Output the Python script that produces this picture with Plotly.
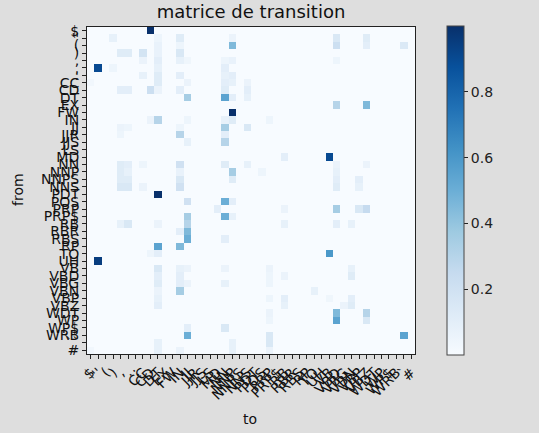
import numpy as np
import plotly.graph_objects as go

tags = ["$", "''", "(", ")", ",", ".", ":", "CC", "CD", "DT", "EX", "FW", "IN", "JJ", "JJR",
        "JJS", "LS", "MD", "NN", "NNP", "NNPS", "NNS", "PDT", "POS", "PRP", "PRP$", "RB", "RBR",
        "RBS", "RP", "TO", "UH", "VB", "VBD", "VBG", "VBN", "VBP", "VBZ", "WDT", "WP", "WP$",
        "WRB", "``", "#"]

# transition entries (from tag, to tag, probability)
from_tags = [
    "$",
    "''", "''", "''", "''", "''", "''",
    "(", "(", "(", "(", "(", "(",
    ")", ")", ")", ")", ")",
    ",", ",", ",", ",", ",", ",", ",",
    ".", ".", ".", ".",
    ":", ":", ":", ":", ":",
    "CC", "CC", "CC", "CC", "CC", "CC",
    "CD", "CD", "CD", "CD", "CD", "CD", "CD",
    "DT", "DT", "DT", "DT",
    "EX", "EX",
    "FW",
    "IN", "IN", "IN", "IN", "IN", "IN",
    "JJ", "JJ", "JJ", "JJ", "JJ",
    "JJR", "JJR", "JJR",
    "JJS", "JJS",
    "MD", "MD",
    "NN", "NN", "NN", "NN", "NN", "NN", "NN", "NN",
    "NNP", "NNP", "NNP", "NNP", "NNP", "NNP",
    "NNPS", "NNPS", "NNPS", "NNPS", "NNPS", "NNPS",
    "NNS", "NNS", "NNS", "NNS", "NNS", "NNS",
    "PDT",
    "POS", "POS", "POS",
    "PRP", "PRP", "PRP", "PRP", "PRP",
    "PRP$", "PRP$", "PRP$",
    "RB", "RB", "RB", "RB", "RB", "RB", "RB",
    "RBR", "RBR",
    "RBS", "RBS",
    "RP", "RP",
    "TO", "TO", "TO",
    "UH",
    "VB", "VB", "VB", "VB", "VB", "VB",
    "VBD", "VBD", "VBD", "VBD", "VBD",
    "VBG", "VBG", "VBG", "VBG", "VBG",
    "VBN", "VBN", "VBN",
    "VBP", "VBP", "VBP", "VBP", "VBP",
    "VBZ", "VBZ", "VBZ", "VBZ",
    "WDT", "WDT", "WDT",
    "WP", "WP", "WP",
    "WP$", "WP$",
    "WRB", "WRB", "WRB",
    "``", "``", "``",
    "#", "#", "#", "#", "#",
]
to_tags = [
    "CD",
    ")", "DT", "IN", "NNP", "VBD", "VBZ",
    "DT", "IN", "NNP", "VBD", "VBZ", "``",
    ",", ".", "CC", "DT", "IN",
    "CC", "DT", "IN", "JJ", "NN", "NNP", "VBD",
    "''", ")", "DT", "NN",
    "CC", "DT", "IN", "NN", "NNP",
    "$", "DT", "JJ", "NN", "NNP", "NNS",
    ",", ".", "CD", "DT", "IN", "NN", "NNS",
    "JJ", "NN", "NNP", "NNS",
    "VBD", "VBZ",
    "NNP",
    "DT", "NNP", "NN", "PRP", "CD", "JJ",
    "NN", "NNS", ",", ".", "IN",
    "IN", "NN", ",",
    "NN", "JJ",
    "VB", "RB",
    ",", ".", "IN", "NN", "NNS", "VBD", "VBZ", "CC",
    ",", ".", "NNP", "IN", "POS", "VBD",
    ",", ".", "IN", "NNP", "VBP", "VBD",
    ",", ".", "IN", "VBD", "VBP", "CC",
    "DT",
    "NN", "JJ", "NNP",
    "VBD", "VBZ", "VBP", "MD", "RB",
    "NN", "JJ", "NNP",
    ".", "JJ", "VBD", "RB", "VBN", "DT", ",",
    "JJ", "IN",
    "JJ", "NN",
    "DT", "IN",
    "VB", "DT", "CD",
    "''",
    "DT", "IN", "JJ", "PRP", "VBN", "NN",
    "DT", "IN", "RB", "VBN", "PRP",
    "DT", "IN", "JJ", "NN", "PRP",
    "IN", "DT", "TO",
    "DT", "RB", "VBN", "PRP", "VB",
    "DT", "RB", "VBN", "VBG",
    "VBD", "VBZ", "PRP",
    "VBD", "VBZ", "PRP",
    "JJ", "NN",
    "JJ", "``", "PRP",
    "PRP", "DT", "NNP",
    "DT", "NNP", "PRP", "IN", "$",
]
probs = [
    1.0,
    0.08, 0.05, 0.12, 0.06, 0.15, 0.12,
    0.07, 0.05, 0.45, 0.22, 0.10, 0.14,
    0.12, 0.12, 0.18, 0.07, 0.15,
    0.06, 0.10, 0.08, 0.04, 0.05, 0.07, 0.05,
    0.90, 0.05, 0.08, 0.10,
    0.08, 0.12, 0.10, 0.08, 0.10,
    0.03, 0.12, 0.06, 0.10, 0.08, 0.06,
    0.10, 0.10, 0.22, 0.06, 0.10, 0.12, 0.10,
    0.35, 0.55, 0.10, 0.08,
    0.30, 0.45,
    1.0,
    0.30, 0.12, 0.08, 0.05, 0.06, 0.05,
    0.35, 0.15, 0.06, 0.05, 0.05,
    0.30, 0.10, 0.05,
    0.30, 0.08,
    0.90, 0.10,
    0.12, 0.10, 0.20, 0.12, 0.08, 0.06, 0.06, 0.05,
    0.12, 0.08, 0.35, 0.07, 0.05, 0.08,
    0.12, 0.12, 0.15, 0.12, 0.10, 0.10,
    0.15, 0.15, 0.20, 0.12, 0.08, 0.06,
    1.0,
    0.50, 0.20, 0.10,
    0.35, 0.25, 0.15, 0.10, 0.06,
    0.50, 0.35, 0.08,
    0.15, 0.30, 0.10, 0.08, 0.08, 0.06, 0.08,
    0.45, 0.10,
    0.50, 0.10,
    0.55, 0.45,
    0.60, 0.10, 0.05,
    0.95,
    0.15, 0.08, 0.06, 0.06, 0.08, 0.06,
    0.10, 0.10, 0.06, 0.12, 0.05,
    0.12, 0.10, 0.06, 0.08, 0.05,
    0.35, 0.06, 0.08,
    0.08, 0.10, 0.10, 0.05, 0.04,
    0.10, 0.08, 0.12, 0.06,
    0.45, 0.30, 0.06,
    0.55, 0.15, 0.05,
    0.10, 0.15,
    0.50, 0.55, 0.15,
    0.15, 0.08, 0.08,
    0.08, 0.08, 0.06, 0.06, 0.03,
]

n = len(tags)
pos = {t: i for i, t in enumerate(tags)}
Z = np.zeros((n, n))
for f, t, p in zip(from_tags, to_tags, probs):
    Z[pos[f], pos[t]] = p

blues = [[0.0, "#f7fbff"], [0.125, "#deebf7"], [0.25, "#c6dbef"], [0.375, "#9ecae1"],
         [0.5, "#6baed6"], [0.625, "#4292c6"], [0.75, "#2171b5"], [0.875, "#08519c"],
         [1.0, "#08306b"]]

idx = list(range(n))
W, H = 539, 433
L, R, T, B = 87, 415, 27, 354
pw, ph = R - L, B - T
BG = "#dedede"

fig = go.Figure(go.Heatmap(
    z=Z, x=idx, y=idx, colorscale=blues, zmin=0, zmax=1.0,
    colorbar=dict(
        x=(447 - L) / pw, xanchor="left", xpad=0, ypad=0,
        y=(B - 190.5) / ph, yanchor="middle", len=329 / ph, lenmode="fraction",
        thickness=17, outlinewidth=1, outlinecolor="#444",
        tickvals=[0.2, 0.4, 0.6, 0.8], ticktext=["0.2", "0.4", "0.6", "0.8"],
        ticks="outside", ticklen=4, tickcolor="#222",
        tickfont=dict(family="DejaVu Sans", size=14, color="#222"),
    ),
))

fnt = dict(family="DejaVu Sans", size=14, color="#111")
fig.update_layout(
    width=W, height=H,
    margin=dict(l=L, r=W - R, t=T, b=H - B, pad=0),
    paper_bgcolor=BG, plot_bgcolor="#f7fbff",
    title=dict(text="matrice de transition", x=0.5, xref="paper", xanchor="center",
               y=1 - 12 / H, yref="container", yanchor="middle",
               font=dict(family="DejaVu Sans", size=18, color="#111")),
    xaxis=dict(range=[-0.5, n - 0.5], tickmode="array", tickvals=idx, ticktext=tags,
               tickangle=-45, ticks="outside", ticklen=4, tickcolor="#222",
               showline=True, linecolor="#222", linewidth=1, mirror=True,
               showgrid=False, zeroline=False, tickfont=fnt),
    yaxis=dict(range=[n - 0.5, -0.5], tickmode="array", tickvals=idx, ticktext=tags,
               ticks="outside", ticklen=4, tickcolor="#222",
               showline=True, linecolor="#222", linewidth=1, mirror=True,
               showgrid=False, zeroline=False, tickfont=fnt),
    annotations=[
        dict(text="from", x=(18 - L) / pw, y=(B - 190) / ph, xref="paper", yref="paper",
             textangle=-90, showarrow=False, xanchor="center", yanchor="middle",
             font=dict(family="DejaVu Sans", size=14, color="#111")),
        dict(text="to", x=(250 - L) / pw, y=(B - 419) / ph, xref="paper", yref="paper",
             showarrow=False, xanchor="center", yanchor="middle",
             font=dict(family="DejaVu Sans", size=14, color="#111")),
    ],
)

fig.write_html(
    "out.html",
    config={"displayModeBar": False},
    post_script="document.body.style.margin='0';document.body.style.background='" + BG + "';",
)
